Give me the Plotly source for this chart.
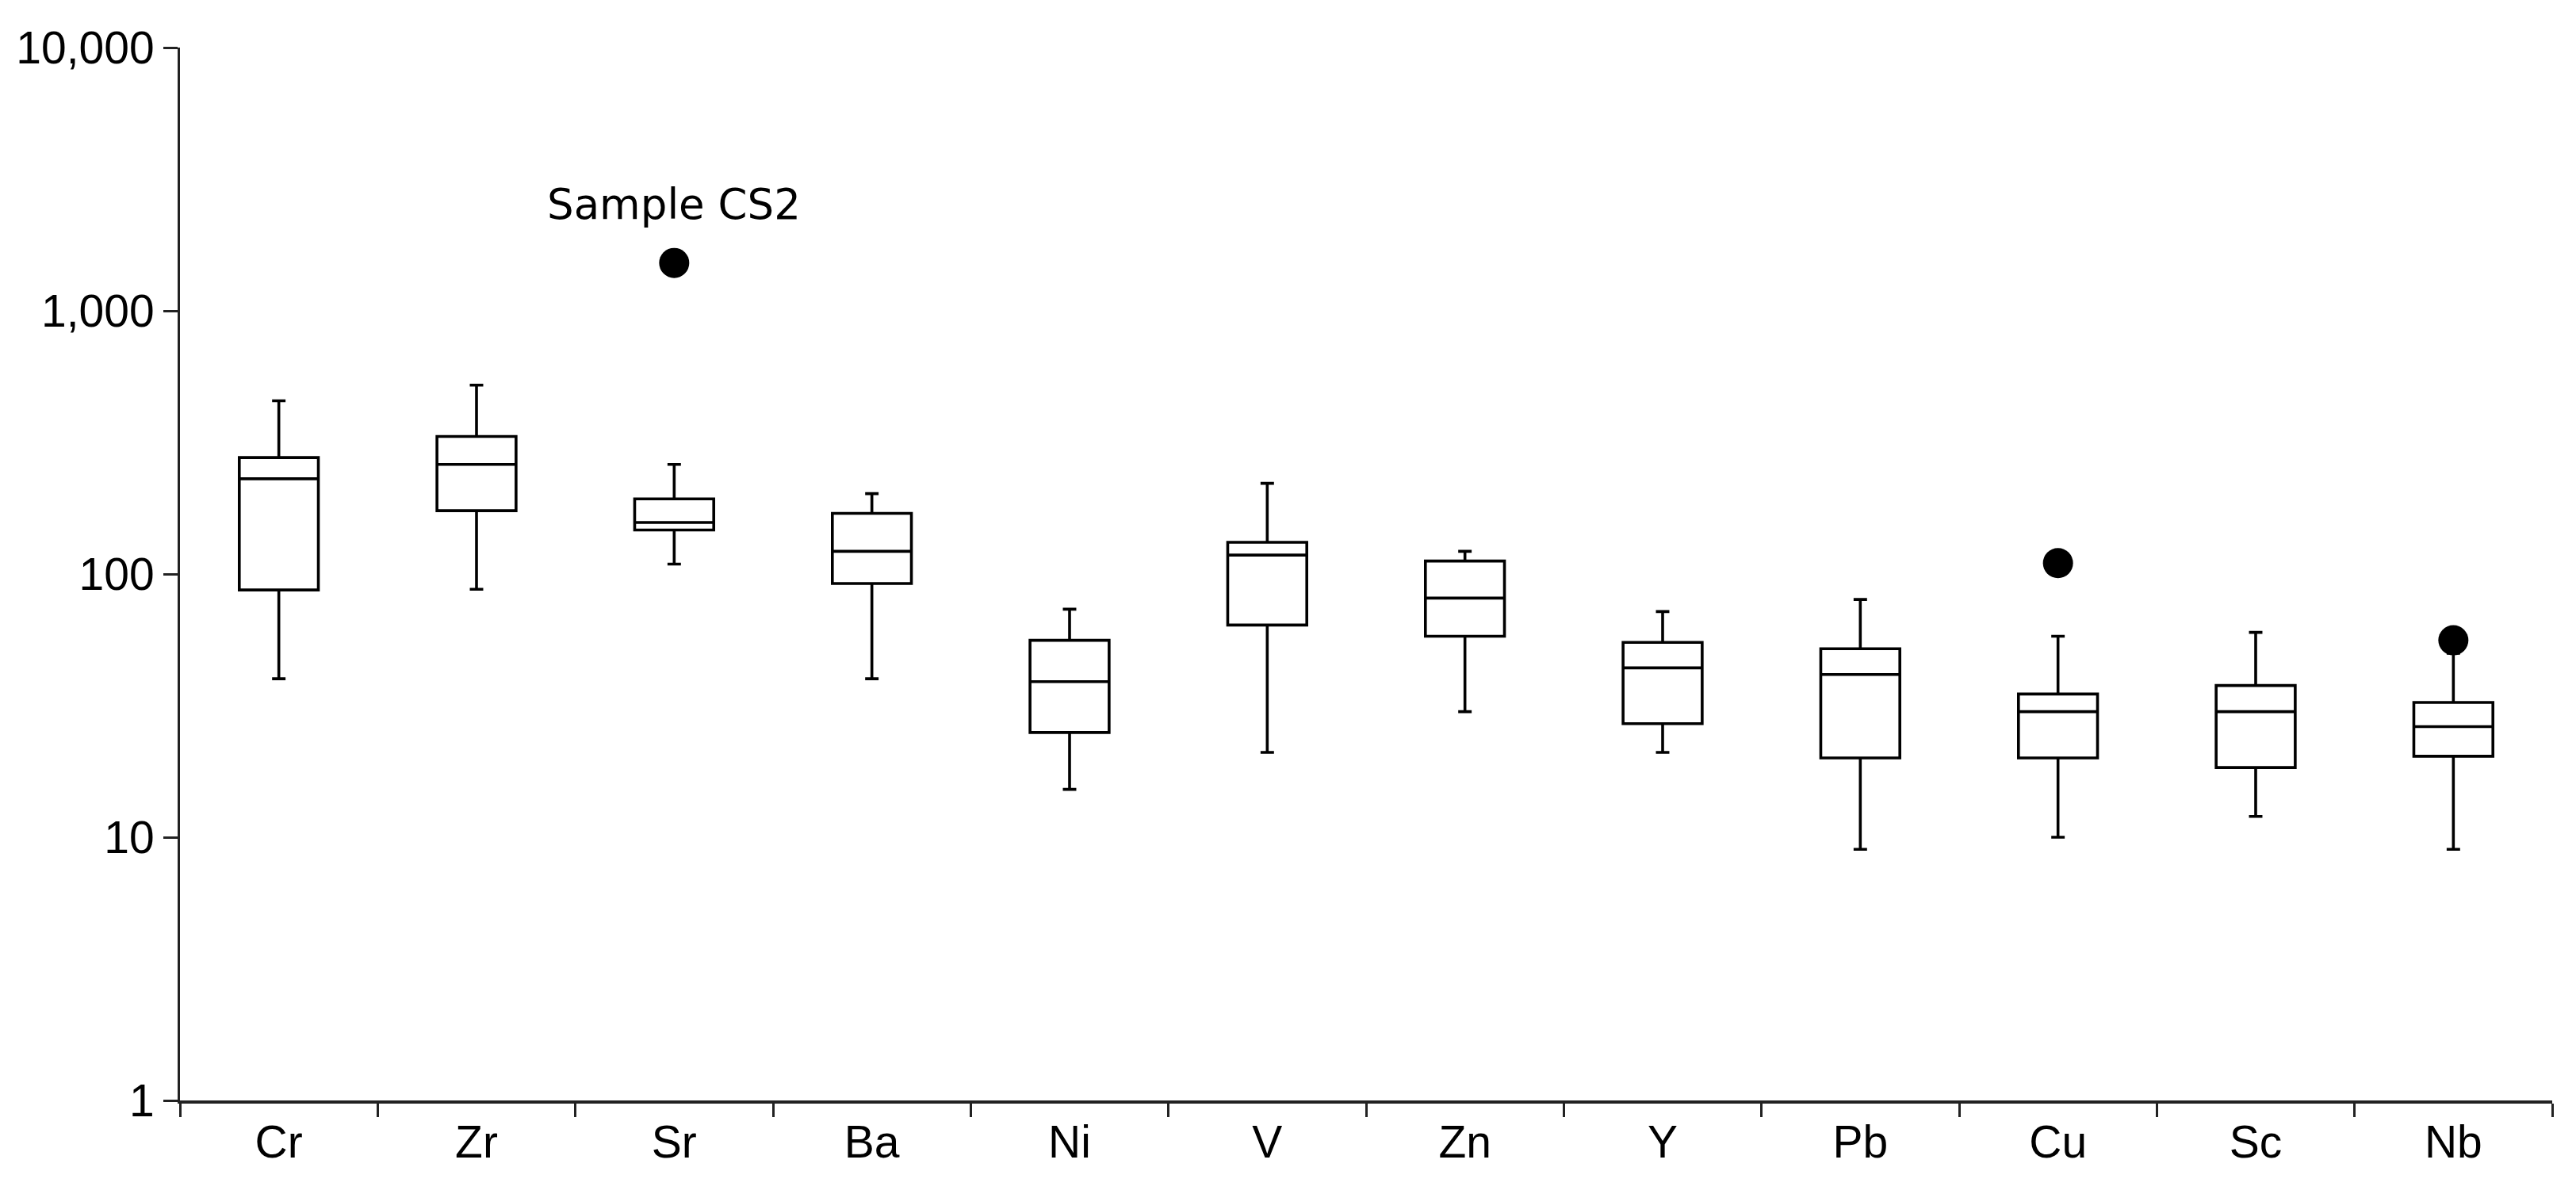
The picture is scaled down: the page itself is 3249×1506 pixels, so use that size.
import math
import plotly.graph_objects as go

categories = ["Cr", "Zr", "Sr", "Ba", "Ni", "V", "Zn", "Y", "Pb", "Cu", "Sc", "Nb"]
lower_whisker = [40, 87.5, 109, 40, 15.2, 21, 30, 21, 9, 10, 12, 9]
q1_values = [87, 174, 147, 92, 25, 64, 58, 27, 20, 20, 18.4, 20.3]
median_values = [230, 261, 157, 122, 39, 118, 81, 44, 41.5, 30, 30, 26.3]
q3_values = [277, 333, 193, 170, 56, 132, 112, 55, 52, 35, 37.7, 32.5]
upper_whisker = [455, 522, 261, 202, 73.5, 221, 122, 72, 80, 58, 60, 50]

outlier_categories = ["Sr", "Cu", "Nb"]
outlier_values = [1520, 110, 56]

annotation_text = "Sample CS2"
annotation_category = "Sr"
annotation_value = 1520

y_tick_values = [1, 10, 100, 1000, 10000]
y_tick_labels = ["1", "10", "100", "1,000", "10,000"]

fig = go.Figure()

fig.add_trace(go.Box(
    x=categories,
    q1=q1_values,
    median=median_values,
    q3=q3_values,
    lowerfence=lower_whisker,
    upperfence=upper_whisker,
    boxpoints=False,
    fillcolor="white",
    line=dict(color="black", width=3.6),
    width=0.4,
    whiskerwidth=0.17,
    showlegend=False,
    hoverinfo="skip",
))

fig.add_trace(go.Scatter(
    x=outlier_categories,
    y=outlier_values,
    mode="markers",
    marker=dict(color="black", size=38),
    showlegend=False,
    hoverinfo="skip",
))

fig.add_annotation(
    x=annotation_category,
    y=math.log10(annotation_value),
    text=annotation_text,
    showarrow=False,
    yshift=74,
    font=dict(family="DejaVu Sans", size=53, color="black"),
)

fig.update_xaxes(
    type="category",
    categoryorder="array",
    categoryarray=categories,
    range=[-0.5, len(categories) - 0.5],
    showline=True,
    linecolor="#222222",
    linewidth=4,
    ticks="outside",
    tickson="boundaries",
    ticklen=17,
    tickwidth=3,
    tickcolor="#222222",
    showgrid=False,
    zeroline=False,
    tickfont=dict(family="Liberation Sans, Arial", size=57, color="black"),
)

fig.update_yaxes(
    type="log",
    range=[0, 4],
    tickvals=y_tick_values,
    ticktext=y_tick_labels,
    showline=True,
    linecolor="#222222",
    linewidth=3,
    ticks="outside",
    ticklen=18,
    tickwidth=3,
    tickcolor="#222222",
    showgrid=False,
    zeroline=False,
    tickfont=dict(family="Liberation Sans, Arial", size=57, color="black"),
)

# the page body adds an 8px offset; compensate so the plot area lands where the reference has it
fig.update_layout(
    width=3241,
    height=1498,
    margin=dict(l=210, r=30, t=52, b=118),
    plot_bgcolor="white",
    paper_bgcolor="white",
    showlegend=False,
)

fig.write_html("out.html")
